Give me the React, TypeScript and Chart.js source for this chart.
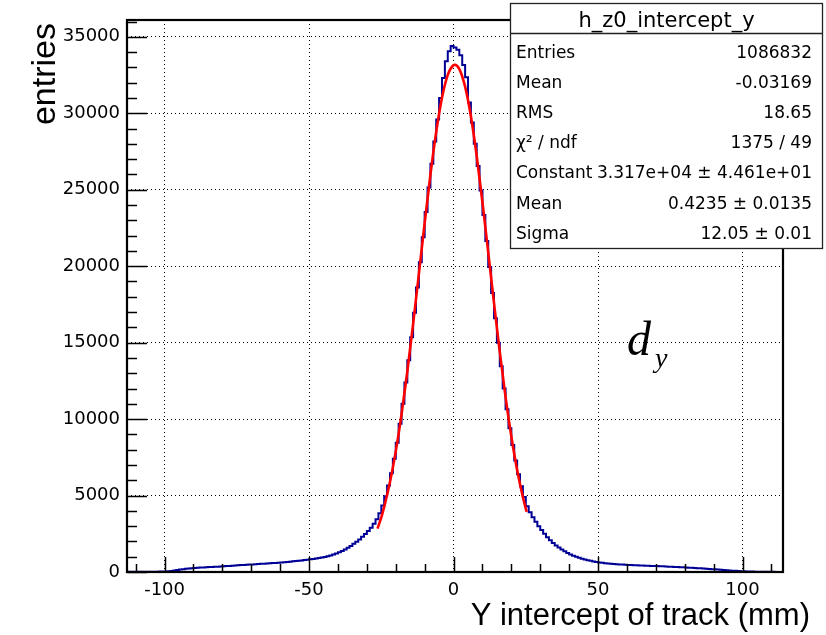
import React, { useEffect, useRef } from "react";
import { Chart, registerables } from "chart.js";

Chart.register(...registerables);

// ---------------- data ----------------
// histogram: 227 bins of width 1 from -113 to 114
const binStart = -113;
const binWidth = 1;

// bin centres -112.5 ... -19.5
const leftTail = [
  10, 12, 9, 14, 12, 16, 14, 18, 17, 20, 23, 25, 30,
  38, 52, 72, 98, 128, 158, 185, 210, 232, 250,
  265, 278, 290, 300, 310, 320, 330, 340, 350, 360,
  374, 387, 400, 413, 426, 438, 450, 462, 474, 486,
  498, 510, 522, 534, 546, 558, 570, 582, 595, 608,
  625, 642, 660, 678, 698, 718, 738, 758, 780, 805,
  830, 855, 880, 910, 945, 985, 1030, 1080, 1140, 1210,
  1290, 1370, 1470, 1580, 1700, 1840, 1980, 2130, 2300, 2480,
  2680, 2900, 3150, 3450, 3850, 4350, 4950, 5650, 6450, 7400,
  8450,
];

// bin centres -18.5 ... 25.5
const core = [
  9700, 11000, 12400, 13850, 15350, 16950, 18600, 20250, 21900, 23550,
  25150, 26700, 28150, 29600, 31000, 32300, 33400, 34050, 34400, 34300,
  34150, 33800, 33150, 32350, 30700, 29400, 28000, 26550, 24950, 23350,
  21650, 19950, 18250, 16600, 15000, 13450, 12000, 10650, 9400, 8300,
  7300, 6400, 5600, 4900, 4300,
];

// bin centres 26.5 ... 113.5
const rightTail = [
  3900, 3580, 3280, 3000, 2740, 2500, 2280, 2080, 1900, 1740,
  1600, 1470, 1350, 1240, 1150, 1070, 995, 930, 870, 815,
  770, 728, 690, 655, 625, 598, 575, 555, 538, 522,
  508, 496, 485, 474, 465, 456, 448, 440, 432, 424,
  416, 408, 400, 392, 385, 376, 368, 360, 350, 342,
  333, 324, 314, 304, 294, 284, 273, 262, 250, 238,
  226, 213, 200, 186, 172, 158, 144, 130, 116, 102,
  89, 77, 65, 54, 44, 36, 30, 25, 20, 18,
  15, 13, 12, 10, 9, 8, 7, 6,
];

// red fit curve
const fitX = [-26.3, -25, -24, -22, -20, -18, -16, -14, -12, -10, -8, -6, -4, -2, 0, 0.42, 2, 4, 6, 8, 10, 12, 14, 16, 18, 20, 22, 24, 25.3];
const fitY = [2840, 3580, 4260, 5880, 7890, 10310, 13110, 16210, 19500, 22820, 25990, 28780, 31010, 32510, 33150, 33170, 32890, 31740, 29800, 27220, 24180, 20900, 17580, 14380, 11440, 8860, 6670, 4890, 3930];

// axes
const xMin = -113;
const xMax = 114;
const yMin = 0;
const yMax = 36100;
const xMajorTicks = [-100, -50, 0, 50, 100];
const xTickMarks = [-110, -100, -90, -80, -70, -60, -50, -40, -30, -20, -10, 0, 10, 20, 30, 40, 50, 60, 70, 80, 90, 100, 110];
const yMajorTicks = [0, 5000, 10000, 15000, 20000, 25000, 30000, 35000];
const yMinorStep = 1000;

// texts
const xTitle = "Y intercept of track (mm)";
const yTitle = "entries";
const statsTitle = "h_z0_intercept_y";
const statsLabels = ["Entries", "Mean", "RMS", "\u03c7\u00b2 / ndf", "Constant", "Mean", "Sigma"];
const statsValues = ["1086832", "-0.03169", "18.65", "1375 / 49", "3.317e+04 \u00b1 4.461e+01", "0.4235 \u00b1 0.0135", "12.05 \u00b1 0.01"];

const W = 826;
const H = 635;

export default function App() {
  const ref = useRef<HTMLCanvasElement>(null);

  useEffect(() => {
    const canvas = ref.current;
    if (!canvas) return;
    const counts = [...leftTail, ...core, ...rightTail];
    const histPts = counts.map((c, i) => ({ x: binStart + i * binWidth, y: c }));
    histPts.push({ x: binStart + counts.length * binWidth, y: counts[counts.length - 1] });
    const fitPts = fitX.map((x, i) => ({ x, y: fitY[i] }));

    const decor = {
      id: "rootDecor",
      afterDraw(chart: any) {
        const ctx = chart.ctx as CanvasRenderingContext2D;
        const { left, right, top, bottom } = chart.chartArea;
        const xs = chart.scales.x;
        const ys = chart.scales.y;
        ctx.save();
        // tick marks (inward)
        ctx.strokeStyle = "#000";
        ctx.lineWidth = 1.5;
        ctx.beginPath();
        for (const v of xTickMarks) {
          const px = Math.round(xs.getPixelForValue(v)) + 0.5;
          const len = xMajorTicks.includes(v) ? 15 : 8;
          ctx.moveTo(px, bottom);
          ctx.lineTo(px, bottom - len);
        }
        for (let v = yMin; v <= yMax; v += yMinorStep) {
          const py = Math.round(ys.getPixelForValue(v)) + 0.5;
          const len = v % 5000 === 0 ? 20 : 10;
          ctx.moveTo(left, py);
          ctx.lineTo(left + len, py);
        }
        ctx.stroke();
        // frame
        ctx.lineWidth = 2.2;
        ctx.strokeRect(left, top, right - left, bottom - top);

        // stats box
        const bx = 510.5, by = 3.5, bw = 312, bh = 245;
        ctx.fillStyle = "#fff";
        ctx.fillRect(bx, by, bw, bh);
        ctx.lineWidth = 1.3;
        ctx.strokeStyle = "#222";
        ctx.strokeRect(bx, by, bw, bh);
        ctx.beginPath();
        ctx.moveTo(bx, 33.5);
        ctx.lineTo(bx + bw, 33.5);
        ctx.stroke();
        ctx.fillStyle = "#000";
        ctx.textBaseline = "alphabetic";
        ctx.font = '21px "DejaVu Sans"';
        ctx.textAlign = "center";
        ctx.fillText(statsTitle, bx + bw / 2, 27);
        ctx.font = '17px "DejaVu Sans"';
        for (let i = 0; i < statsLabels.length; i++) {
          const yb = 57.5 + i * 30.2;
          ctx.textAlign = "left";
          ctx.fillText(statsLabels[i], 516, yb);
          ctx.textAlign = "right";
          ctx.fillText(statsValues[i], 812, yb);
        }

        // axis titles
        ctx.font = '31px "Liberation Sans"';
        ctx.textAlign = "right";
        ctx.fillText(xTitle, 810, 625);
        ctx.save();
        ctx.translate(55, 23);
        ctx.rotate(-Math.PI / 2);
        ctx.font = '34px "Liberation Sans"';
        ctx.textAlign = "right";
        ctx.fillText(yTitle, 0, 0);
        ctx.restore();

        // annotation d_y
        ctx.textAlign = "left";
        ctx.font = 'italic 48px "Liberation Serif"';
        ctx.fillText("d", 627, 355);
        ctx.font = 'italic 28px "Liberation Serif"';
        ctx.fillText("y", 655, 367);
        ctx.restore();
      },
    };

    const chart = new Chart(canvas, {
      type: "line",
      data: {
        datasets: [
          {
            label: "fit",
            data: fitPts,
            borderColor: "#ff0000",
            borderWidth: 2.6,
            pointRadius: 0,
            cubicInterpolationMode: "monotone",
            fill: false,
          },
          {
            label: "h_z0_intercept_y",
            data: histPts,
            borderColor: "#000096",
            borderWidth: 2,
            pointRadius: 0,
            stepped: "before",
            fill: false,
          },
        ],
      },
      options: {
        responsive: false,
        animation: false,
        devicePixelRatio: 1,
        layout: { padding: { left: 0, top: 20, right: 43, bottom: 0 } },
        plugins: { legend: { display: false }, tooltip: { enabled: false }, title: { display: false } },
        events: [],
        scales: {
          x: {
            type: "linear",
            min: xMin,
            max: xMax,
            afterBuildTicks: (s: any) => {
              s.ticks = xMajorTicks.map((v) => ({ value: v }));
            },
            afterFit: (s: any) => {
              s.height = H - 572;
            },
            ticks: {
              callback: (v: any) => String(v),
              font: { family: "DejaVu Sans", size: 18 },
              color: "#000",
              padding: 8,
              maxRotation: 0,
            },
            grid: { color: "#000", lineWidth: 1, drawTicks: false },
            border: { display: false, dash: [1, 3] },
          },
          y: {
            type: "linear",
            min: yMin,
            max: yMax,
            afterBuildTicks: (s: any) => {
              s.ticks = yMajorTicks.map((v) => ({ value: v }));
            },
            afterFit: (s: any) => {
              s.width = 127;
            },
            ticks: {
              callback: (v: any) => String(v),
              font: { family: "DejaVu Sans", size: 18 },
              color: "#000",
              padding: 7,
            },
            grid: { color: "#000", lineWidth: 1, drawTicks: false },
            border: { display: false, dash: [1, 3] },
          },
        },
      },
      plugins: [decor],
    } as any);
    return () => chart.destroy();
  }, []);

  return (
    <div style={{ position: "fixed", left: 0, top: 0, width: W, height: H, background: "#fff" }}>
      <canvas ref={ref} width={W} height={H} style={{ width: W, height: H, display: "block" }} />
    </div>
  );
}
